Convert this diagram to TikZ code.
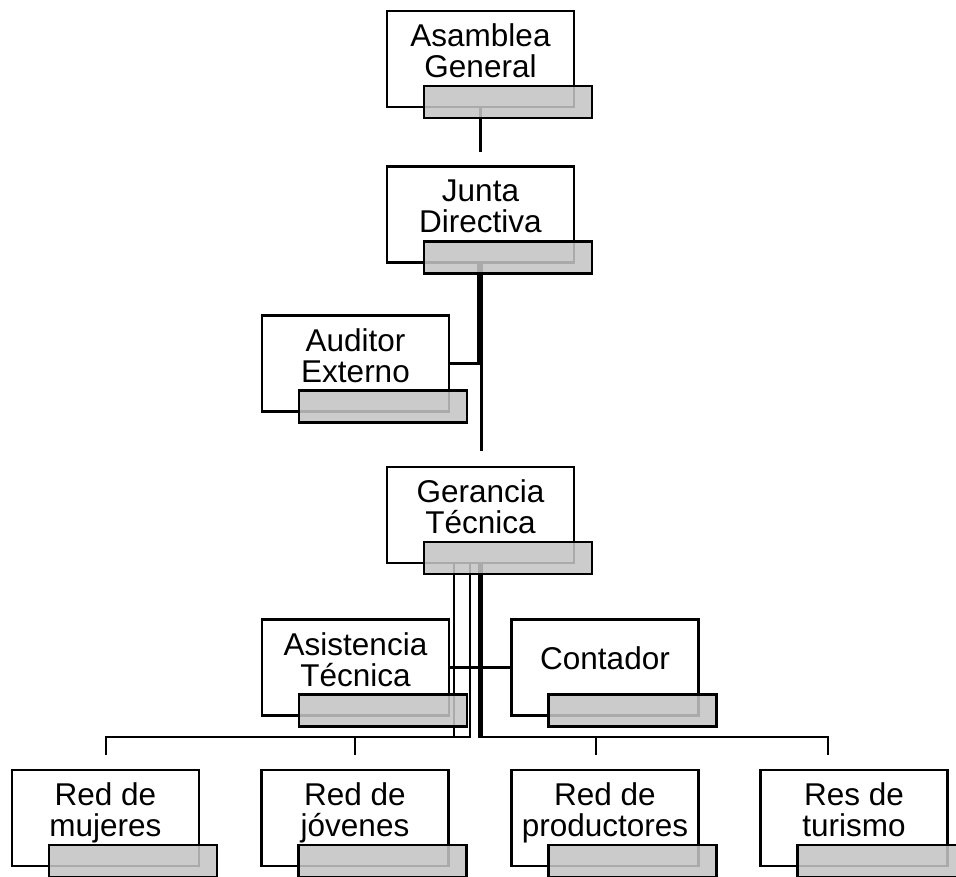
\documentclass[tikz,border=0pt]{standalone}
\usepackage{fontspec}
\setmainfont{Liberation Sans}
\usepackage{tikz}
\usetikzlibrary{positioning,calc}
\definecolor{tagfill}{gray}{0.77}
\tikzset{
  unit/.style = {draw, fill = white, line width = 2.6pt, minimum width = 187pt, minimum height = 96pt, inner sep = 0pt},
  txt/.style = {align = center, inner sep = 0pt, font = \fontsize{31.5}{31}\selectfont},
  tag/.style = {draw, line width = 2.6pt, fill = tagfill, fill opacity = 0.87, minimum width = 168pt, minimum height = 32pt, inner sep = 0pt},
  link/.style = {line width = 2.3pt}
}

\begin{document}
\begin{tikzpicture}[x = 1pt, y = -1pt]
  \useasboundingbox (0,0) rectangle (956,876);
  \clip (0,0) rectangle (956,876);
  % boxes
  \node[unit] (ag) at (480.5,59) {};
  \node[unit] (jd) at (480.5,214.5) {};
  \node[unit] (au) at (355.5,363.5) {};
  \node[unit] (gt) at (480.5,515) {};
  \node[unit] (at) at (355.5,667.5) {};
  \node[unit] (ct) at (605,667.5) {};
  \node[unit] (rm) at (105.5,818) {};
  \node[unit] (rj) at (355,818) {};
  \node[unit] (rp) at (605,818) {};
  \node[unit] (rt) at (854,818) {};
  \node[txt] at ([yshift = 3.5pt]ag.center) {Asamblea\\General\strut};
  \node[txt] at ([yshift = 3.5pt]jd.center) {Junta\\Directiva\strut};
  \node[txt] at ([yshift = 3.5pt]au.center) {Auditor\\Externo\strut};
  \node[txt] at ([yshift = 3.5pt]gt.center) {Gerancia\\Técnica\strut};
  \node[txt] at ([yshift = 3.5pt]at.center) {Asistencia\\Técnica\strut};
  \node[txt] at ([yshift = 4.5pt]ct.center) {Contador\strut};
  \node[txt] at ([yshift = 3.5pt]rm.center) {Red de\\mujeres\strut};
  \node[txt] at ([yshift = 3.5pt]rj.center) {Red de\\jóvenes\strut};
  \node[txt] at ([yshift = 3.5pt]rp.center) {Red de\\productores\strut};
  \node[txt] at ([yshift = 3.5pt]rt.center) {Res de\\turismo\strut};
  % connectors
  \draw[link] (ag.south) -- ([yshift = 13pt]jd.north);
  \draw[link] ([xshift = -2pt]jd.south) |- (au.east);
  \draw[link] ([xshift = 1pt]jd.south) -- ([xshift = 1pt, yshift = 15pt]gt.north);
  \draw[link] ([xshift = -1pt]gt.south) |- (at.east);
  \draw[link] ([xshift = 1pt]gt.south) |- (ct.west);
  \draw[link] ([xshift = -26.5pt]gt.south) -- ++(0,173) -| ([xshift = .5pt, yshift = 14pt]rm.north);
  \draw[link] ([xshift = -10.5pt]gt.south) -- ++(0,173) -| ([yshift = 14pt]rj.north);
  \draw[link] ([xshift = -1pt]gt.south) -- ++(0,173) -| ([xshift = -9pt, yshift = 14pt]rp.north);
  \draw[link] ([xshift = 1pt]gt.south) -- ++(0,173) -| ([xshift = -26pt, yshift = 14pt]rt.north);
  % shaded tags
  \node[tag] (agt) at ([shift = {(27.5,43)}]ag.center) {};
  \node[tag] (jdt) at ([shift = {(27.5,43)}]jd.center) {};
  \node[tag] (aut) at ([shift = {(27.5,43)}]au.center) {};
  \node[tag] (gtt) at ([shift = {(27.5,43)}]gt.center) {};
  \node[tag] (att) at ([shift = {(27.5,43)}]at.center) {};
  \node[tag] (ctt) at ([shift = {(27.5,43)}]ct.center) {};
  \node[tag] (rmt) at ([shift = {(27.5,43)}]rm.center) {};
  \node[tag] (rjt) at ([shift = {(27.5,43)}]rj.center) {};
  \node[tag] (rpt) at ([shift = {(27.5,43)}]rp.center) {};
  \node[tag] (rtt) at ([shift = {(27.5,43)}]rt.center) {};
\end{tikzpicture}
\end{document}
